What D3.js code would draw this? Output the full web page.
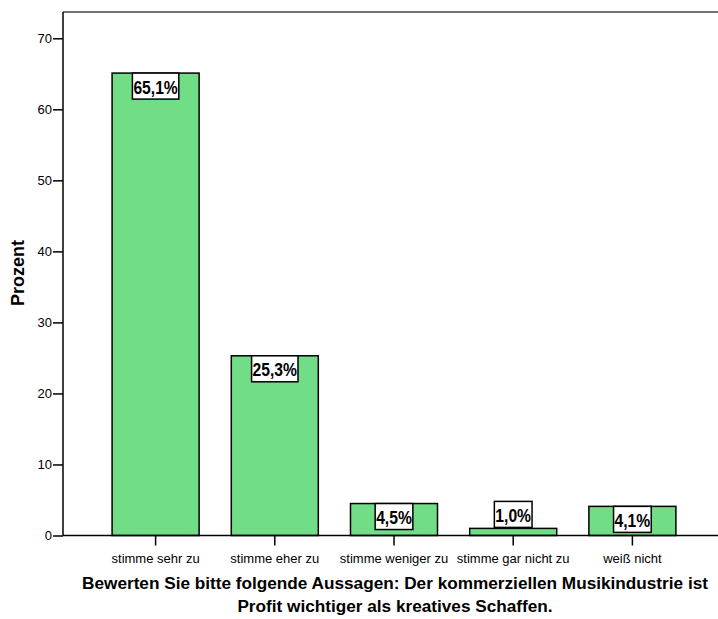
<!DOCTYPE html>
<html>
<head>
<meta charset="utf-8">
<script src="https://cdn.jsdelivr.net/npm/d3@7"></script>
<style>
  body { margin: 0; background: #fff; }
  svg { display: block; font-family: Arial, "Liberation Sans", sans-serif; }
</style>
</head>
<body>
<div class="container"></div>
<script>
const WIDTH = 718,
      HEIGHT = 619,
      LEFT = 63,
      TOP = 12,
      RIGHT = 718,
      BOTTOM = 535.5;

var categories = ['stimme sehr zu', 'stimme eher zu', 'stimme weniger zu', 'stimme gar nicht zu', 'weiß nicht'];
var values = [65.1, 25.3, 4.5, 1.0, 4.1];
var yTicks = [0, 10, 20, 30, 40, 50, 60, 70];
var titleLines = ['Bewerten Sie bitte folgende Aussagen: Der kommerziellen Musikindustrie ist',
                  'Profit wichtiger als kreatives Schaffen.'];

var fmt = function(v) { return d3.format('.1f')(v).replace('.', ',') + '%'; };

var svg = d3.select('.container').append('svg')
    .attr('width', WIDTH).attr('height', HEIGHT);

var x = d3.scaleBand().domain(categories).range([96, 692]).paddingInner(.27).paddingOuter(.135);
var y = d3.scaleLinear().domain([0, 73.7]).range([BOTTOM, TOP]);

// bars
svg.selectAll('rect.bar').data(values).enter().append('rect')
    .attr('class', 'bar')
    .attr('x', function(d, i) { return x(categories[i]); })
    .attr('y', function(d) { return y(d); })
    .attr('width', x.bandwidth())
    .attr('height', function(d) { return BOTTOM - y(d); })
    .attr('fill', '#71dd87')
    .attr('stroke', '#000')
    .attr('stroke-width', 1.5);

// frame
svg.append('line').attr('x1', LEFT).attr('x2', RIGHT).attr('y1', TOP).attr('y2', TOP)
    .attr('stroke', '#444').attr('stroke-width', 1.5);
svg.append('line').attr('x1', LEFT).attr('x2', LEFT).attr('y1', TOP).attr('y2', BOTTOM)
    .attr('stroke', '#000').attr('stroke-width', 1.5);
svg.append('line').attr('x1', LEFT).attr('x2', RIGHT).attr('y1', BOTTOM).attr('y2', BOTTOM)
    .attr('stroke', '#000').attr('stroke-width', 1.5);

// axes
var yAxis = svg.append('g').attr('transform', 'translate(' + LEFT + ',0)')
    .call(d3.axisLeft(y).tickValues(yTicks).tickSize(10).tickPadding(1));
var xAxis = svg.append('g').attr('transform', 'translate(0,' + BOTTOM + ')')
    .call(d3.axisBottom(x).tickSize(10).tickPadding(8));

[yAxis, xAxis].forEach(function(ax) {
  ax.select('.domain').remove();
  ax.selectAll('.tick line').attr('stroke', '#000').attr('stroke-width', 1.5);
  ax.selectAll('.tick text').attr('fill', '#000').style('font-size', '13px')
      .style('font-family', 'Arial, "Liberation Sans", sans-serif');
});

// value labels
var labels = svg.selectAll('g.label').data(values).enter().append('g').attr('class', 'label');
labels.each(function(d, i) {
  var g = d3.select(this);
  var cx = x(categories[i]) + x.bandwidth() / 2;
  var t = g.append('text')
      .attr('text-anchor', 'middle')
      .style('font-size', '18px').style('font-weight', 'bold')
      .text(fmt(d));
  var w = t.node().getComputedTextLength() * .87 + 2,
      h = 26;
  var top = (BOTTOM - y(d) >= h) ? y(d) : y(d) - h - 1;
  g.insert('rect', 'text')
      .attr('x', cx - w / 2).attr('y', top)
      .attr('width', w).attr('height', h)
      .attr('fill', '#fff').attr('stroke', '#000').attr('stroke-width', 1.5);
  t.attr('transform', 'translate(' + cx + ',' + (top + 20.5) + ') scale(.87,1)');
});

// axis titles
svg.append('text')
    .attr('transform', 'translate(24,273) rotate(-90)')
    .attr('text-anchor', 'middle')
    .style('font-size', '18px').style('font-weight', 'bold')
    .text('Prozent');

svg.selectAll('text.title').data(titleLines).enter().append('text')
    .attr('class', 'title')
    .attr('x', 395)
    .attr('y', function(d, i) { return 589 + i * 22.5; })
    .attr('text-anchor', 'middle')
    .style('font-size', '17.2px').style('font-weight', 'bold')
    .text(function(d) { return d; });
</script>
</body>
</html>
